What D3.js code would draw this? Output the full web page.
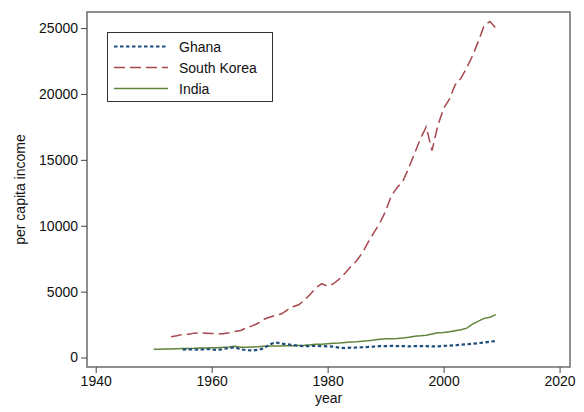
<!DOCTYPE html>
<html>
<head>
<meta charset="utf-8">
<script src="https://cdn.jsdelivr.net/npm/d3@7"></script>
<style>
  body { margin: 0; background: #fff; }
  text { font-family: "Liberation Sans", Arial, sans-serif; fill: #111; }
</style>
</head>
<body>
<div id="chart"></div>
<script>
// per capita income
let ghana_years = d3.range(1955, 2010);
let ghana = [600, 620, 610, 590, 640, 620, 560, 650, 720, 780,
             620, 560, 530, 580, 700, 1000, 1150, 1060, 1000, 950,
             880, 860, 870, 880, 860, 850, 820, 750, 720, 750,
             760, 780, 800, 830, 860, 860, 880, 870, 860, 850,
             860, 870, 860, 840, 850, 880, 900, 930, 970, 1000,
             1040, 1090, 1140, 1200, 1260];

let korea_years = d3.range(1953, 2010);
let korea = [1580, 1650, 1750, 1760, 1850, 1880, 1850, 1820, 1800, 1800,
             1880, 1980, 2050, 2250, 2400, 2600, 2900, 3050, 3200, 3300,
             3600, 3850, 4000, 4350, 4800, 5300, 5600, 5400, 5600, 5950,
             6400, 6900, 7350, 7950, 8750, 9500, 10200, 11100, 12300, 12900,
             13400, 14400, 15500, 16600, 17500, 15700, 17600, 18900, 19600, 20700,
             21200, 22000, 22900, 24000, 25200, 25500, 25000];

let india_years = d3.range(1950, 2010);
let india = [620, 630, 640, 650, 670, 680, 690, 700, 720, 730,
             740, 750, 770, 800, 860, 780, 770, 800, 820, 850,
             870, 880, 880, 890, 900, 920, 930, 960, 1000, 1000,
             1040, 1080, 1100, 1140, 1170, 1200, 1240, 1270, 1320, 1380,
             1420, 1430, 1450, 1480, 1540, 1620, 1650, 1690, 1780, 1880,
             1900, 1950, 2030, 2100, 2230, 2540, 2760, 2970, 3060, 3250];

let series_names = ["Ghana", "South Korea", "India"];
let series_colors = ["#1f4e7d", "#a8474e", "#5f843a"];
let series_dash = ["3.5,2.5", "11,5", null];

let x_ticks = [1940, 1960, 1980, 2000, 2020];
let y_ticks = [0, 5000, 10000, 15000, 20000, 25000];

let width = 584, height = 412;
let margin = {left: 87, right: 14, top: 12, bottom: 45};

let svg = d3.select("#chart").append("svg")
    .attr("width", width)
    .attr("height", height);

let x = d3.scaleLinear()
    .domain([1938.5, 2021.8])
    .range([margin.left, width - margin.right]);

let y = d3.scaleLinear()
    .domain([-720, 26220])
    .range([height - margin.bottom, margin.top]);

// frame
svg.append("rect")
    .attr("x", margin.left)
    .attr("y", margin.top)
    .attr("width", width - margin.left - margin.right)
    .attr("height", height - margin.top - margin.bottom)
    .attr("fill", "none")
    .attr("stroke", "#6b6b6b")
    .attr("stroke-width", 1.5);

// y axis
let yAxis = svg.append("g")
    .attr("transform", "translate(" + margin.left + ",0)")
    .call(d3.axisLeft(y).tickValues(y_ticks).tickSize(6).tickPadding(3).tickFormat(d3.format("d")));
yAxis.select(".domain").remove();
yAxis.selectAll("line").attr("stroke", "#444");
yAxis.selectAll("text").style("font-size", "14px").attr("fill", "#111");

// x axis
let xAxis = svg.append("g")
    .attr("transform", "translate(0," + (height - margin.bottom) + ")")
    .call(d3.axisBottom(x).tickValues(x_ticks).tickSize(6).tickPadding(3).tickFormat(d3.format("d")));
xAxis.select(".domain").remove();
xAxis.selectAll("line").attr("stroke", "#444");
xAxis.selectAll("text").style("font-size", "14px").attr("fill", "#111");

// axis titles
svg.append("text")
    .attr("x", (margin.left + width - margin.right) / 2)
    .attr("y", 403)
    .attr("text-anchor", "middle")
    .style("font-size", "14px")
    .text("year");

svg.append("text")
    .attr("transform", "translate(25," + ((margin.top + height - margin.bottom) / 2) + ") rotate(-90)")
    .attr("text-anchor", "middle")
    .style("font-size", "14px")
    .text("per capita income");

// lines
let all_series = [
    {name: series_names[0], years: ghana_years, values: ghana},
    {name: series_names[1], years: korea_years, values: korea},
    {name: series_names[2], years: india_years, values: india}
];

let line = d3.line()
    .x(function (d) { return x(d[0]); })
    .y(function (d) { return y(d[1]); });

// draw India first, then Korea, then Ghana on top
[2, 1, 0].forEach(function (i) {
    let s = all_series[i];
    let pts = s.years.map(function (yr, k) { return [yr, s.values[k]]; });
    svg.append("path")
        .datum(pts)
        .attr("d", line)
        .attr("fill", "none")
        .attr("stroke", series_colors[i])
        .attr("stroke-width", i == 0 ? 2.2 : 1.5)
        .attr("stroke-dasharray", series_dash[i]);
});

// legend
let legend = svg.append("g");
legend.append("rect")
    .attr("x", 107.5)
    .attr("y", 32.5)
    .attr("width", 165)
    .attr("height", 69)
    .attr("fill", "#fff")
    .attr("stroke", "#333")
    .attr("stroke-width", 1);

series_names.forEach(function (name, i) {
    let ly = 46.5 + i * 21;
    legend.append("line")
        .attr("x1", 114).attr("x2", 168)
        .attr("y1", ly).attr("y2", ly)
        .attr("stroke", series_colors[i])
        .attr("stroke-width", i == 0 ? 2.2 : 1.5)
        .attr("stroke-dasharray", series_dash[i]);
    legend.append("text")
        .attr("x", 179)
        .attr("y", ly + 5)
        .style("font-size", "14px")
        .text(name);
});
</script>
</body>
</html>
